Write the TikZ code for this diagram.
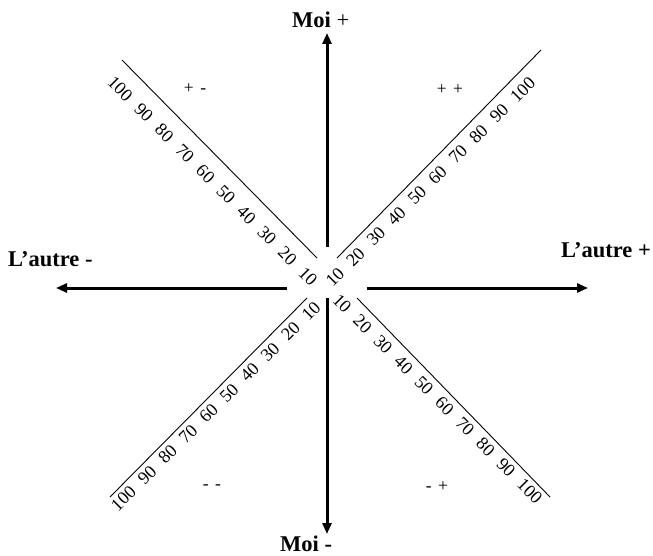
\documentclass[tikz,border=0pt]{standalone}
\usepackage{fontspec}
\setmainfont{Liberation Serif}
\usetikzlibrary{arrows.meta}
\newcommand\wideNumSpace{\spaceskip 11pt\relax}
\newcommand\wideQuadSpace{\spaceskip 6.5pt\relax}
\tikzset{
  axis/.style={line width=3pt,-{Triangle[length=11pt,width=9pt]}},
  diag/.style={line width=0.9pt},
  scalelbl/.style={inner sep=0pt,font=\fontsize{18}{21}\selectfont\wideNumSpace},
  axlbl/.style={inner sep=0pt,anchor=base west,font=\fontsize{22.5}{26}\selectfont\bfseries},
  quad/.style={inner sep=0pt,font=\fontsize{17.5}{20}\selectfont\wideQuadSpace},
}
\begin{document}
\begin{tikzpicture}[x=1pt,y=-1pt]
\useasboundingbox (0,0) rectangle (653,556);
% axis coordinates
\coordinate (top0) at (327,247);
\coordinate (top1) at (327,33);
\coordinate (bot0) at (327,298);
\coordinate (bot1) at (327,534);
\coordinate (lft0) at (287,288);
\coordinate (lft1) at (56,288);
\coordinate (rgt0) at (367,288);
\coordinate (rgt1) at (588,288);
\draw[axis] (top0) -- (top1);
\draw[axis] (bot0) -- (bot1);
\draw[axis] (lft0) -- (lft1);
\draw[axis] (rgt0) -- (rgt1);
% diagonals
\coordinate (nw0) at (122,60);
\coordinate (nw1) at (317,258);
\coordinate (ne0) at (337,258);
\coordinate (ne1) at (541,50);
\coordinate (sw0) at (307,298);
\coordinate (sw1) at (110,497);
\coordinate (se0) at (357,298);
\coordinate (se1) at (550,497);
\draw[diag] (nw0) -- (nw1);
\draw[diag] (ne0) -- (ne1);
\draw[diag] (sw0) -- (sw1);
\draw[diag] (se0) -- (se1);
% scale labels
\node[scalelbl,rotate=-45] (nwl) at (212.5,181) {100 90 80 70 60 50 40 30 20 10};
\node[scalelbl,rotate=45] (nel) at (430.5,182) {10 20 30 40 50 60 70 80 90 100};
\node[scalelbl,rotate=45] (swl) at (215.7,406.3) {100 90 80 70 60 50 40 30 20 10};
\node[scalelbl,rotate=-45] (sel) at (437.5,399) {10 20 30 40 50 60 70 80 90 100};
% axis labels
\node[axlbl] (moip) at (292,28) {Moi \mdseries+};
\node[axlbl] (moim) at (280,551) {Moi -};
\node[axlbl] (autm) at (8,266) {L’autre -};
\node[axlbl] (autp) at (561,257) {L’autre +};
% quadrant labels
\node[quad] (qpm) at (195,89) {+ -};
\node[quad] (qpp) at (450,90) {+ +};
\node[quad] (qmm) at (212,487) {- -};
\node[quad] (qmp) at (437,487) {- +};
\end{tikzpicture}
\end{document}
